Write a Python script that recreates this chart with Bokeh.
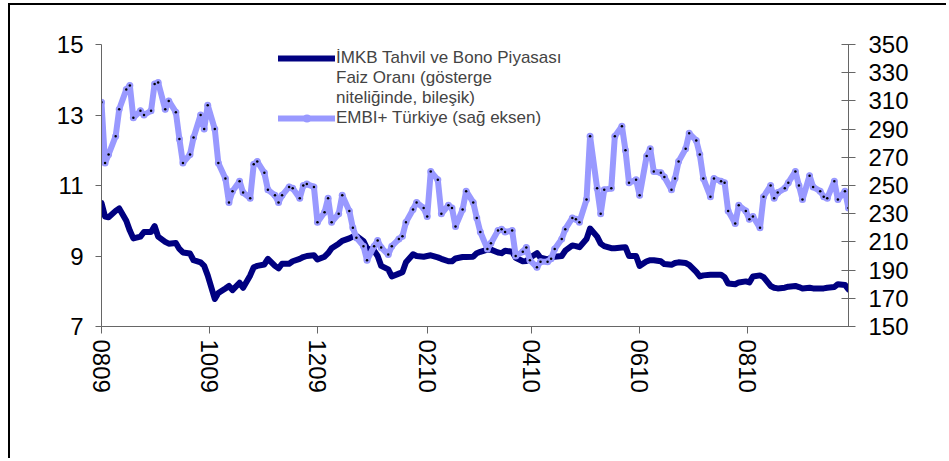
from bokeh.plotting import figure
from bokeh.models import Range1d, LinearAxis, FixedTicker, Legend, LegendItem
from bokeh.embed import file_html
from bokeh.resources import INLINE
import pandas as pd

# İMKB bond market interest rate (left axis, %)
rate = [10.50, 10.12, 10.10, 10.28, 10.35, 10.00, 9.72, 9.50, 9.55, 9.68,
        9.68, 9.85, 9.55, 9.40, 9.35, 9.37, 9.20, 9.10, 9.07, 8.88,
        8.82, 8.72, 8.45, 7.78, 7.95, 8.08, 8.15, 8.03, 8.24, 8.10,
        8.45, 8.68, 8.72, 8.76, 8.92, 8.72, 8.65, 8.78, 8.78, 8.85,
        8.92, 8.97, 9.00, 9.02, 8.90, 8.98, 9.08, 9.22, 9.35, 9.43,
        9.50, 9.55, 9.57, 9.42, 9.22, 9.15, 9.00, 8.72, 8.62, 8.42,
        8.50, 8.54, 8.82, 9.05, 9.00, 8.98, 9.00, 9.02, 8.96, 8.92,
        8.85, 8.85, 8.93, 8.97, 8.97, 8.98, 9.08, 9.12, 9.18, 9.18,
        9.10, 9.08, 9.15, 9.12, 8.95, 8.85, 8.86, 8.95, 9.08, 8.95,
        8.90, 8.95, 8.98, 9.00, 9.15, 9.30, 9.28, 9.25, 9.48, 9.78,
        9.55, 9.35, 9.28, 9.22, 9.22, 9.24, 9.25, 9.00, 9.00, 8.72,
        8.85, 8.88, 8.88, 8.85, 8.77, 8.75, 8.80, 8.82, 8.80, 8.75,
        8.55, 8.42, 8.45, 8.47, 8.47, 8.47, 8.40, 8.22, 8.20, 8.25,
        8.28, 8.25, 8.42, 8.45, 8.40, 8.15, 8.10, 8.08, 8.10, 8.13,
        8.15, 8.12, 8.08, 8.10, 8.08, 8.08, 8.08, 8.10, 8.12, 8.20,
        8.18, 8.05]

# EMBI+ Türkiye spread (right axis)
embi = [309, 266, 272, 285, 304, 318, 321, 298, 303, 300,
        303, 322, 323, 304, 310, 302, 283, 266, 272, 284,
        300, 290, 307, 290, 266, 255, 238, 246, 253, 245,
        241, 265, 267, 259, 247, 243, 238, 243, 249, 248,
        241, 250, 251, 249, 224, 231, 241, 224, 230, 243,
        232, 220, 213, 207, 197, 207, 211, 206, 201, 207,
        212, 214, 224, 233, 238, 234, 228, 260, 254, 230,
        236, 234, 221, 233, 246, 238, 227, 217, 205, 209,
        218, 219, 217, 218, 200, 203, 206, 197, 192, 196,
        196, 198, 205, 212, 219, 227, 226, 224, 240, 285,
        248, 230, 247, 248, 285, 292, 275, 252, 254, 243,
        271, 276, 260, 259, 256, 247, 255, 267, 276, 287,
        282, 272, 255, 242, 255, 253, 252, 232, 223, 236,
        232, 226, 228, 220, 242, 250, 241, 245, 248, 252,
        260, 250, 240, 257, 249, 246, 242, 241, 253, 240,
        246, 234]

tick_dates = ["2009-08-03", "2009-10-03", "2009-12-03", "2010-02-03",
              "2010-04-03", "2010-06-03", "2010-08-03"]
tick_labels = ["0809", "1009", "1209", "0210", "0410", "0610", "0810"]

left_ticks = [7, 9, 11, 13, 15]
right_ticks = [150, 170, 190, 210, 230, 250, 270, 290, 310, 330, 350]

label_rate = "İMKB Tahvil ve Bono Piyasası"
label_rate_2 = "Faiz Oranı (gösterge"
label_rate_3 = "niteliğinde, bileşik)"
label_embi = "EMBI+ Türkiye (sağ eksen)"

dates = pd.bdate_range("2009-08-03", "2010-09-30")[::2][:len(rate)]
x = [int(d.value // 10**6) for d in dates]
tick_ms = [int(pd.Timestamp(d).value // 10**6) for d in tick_dates]

FONT = "Liberation Sans"
AX = "#666666"
W, H = 938, 455
ML, MR, MT, MB = 91, 100, 39, 134

p = figure(width=W, height=H, output_backend="svg", toolbar_location=None,
           x_range=Range1d(x[0], x[-1]), y_range=Range1d(7, 15),
           min_border_left=ML, min_border_right=MR, min_border_top=MT,
           min_border_bottom=MB)
# chart-area frame: only its left and top edges fall inside the window
p.styles = {"margin-left": "8px", "margin-top": "3px",
            "border-left": "2px solid black", "border-top": "2px solid black"}
p.outline_line_color = None
p.xgrid.visible = False
p.ygrid.visible = False
p.background_fill_color = "white"
p.border_fill_color = "white"

p.extra_y_ranges = {"embi": Range1d(150, 350)}
ax_r = LinearAxis(y_range_name="embi", ticker=FixedTicker(ticks=right_ticks))
p.add_layout(ax_r, "right")

p.yaxis[0].ticker = FixedTicker(ticks=left_ticks)
p.xaxis[0].ticker = FixedTicker(ticks=tick_ms)
p.xaxis[0].major_label_overrides = {t: l for t, l in zip(tick_ms, tick_labels)}
p.xaxis[0].major_label_orientation = "vertical"

for ax in [p.xaxis[0], p.yaxis[0], ax_r]:
    ax.axis_line_color = AX
    ax.axis_line_width = 1
    ax.major_tick_line_color = AX
    ax.minor_tick_line_color = None
    ax.major_label_text_font = FONT
    ax.major_label_text_font_size = "24px"
    ax.major_label_text_color = "black"

p.yaxis[0].major_tick_out = 6
p.yaxis[0].major_tick_in = 0
p.yaxis[0].major_label_standoff = 12
ax_r.major_tick_out = 7
ax_r.major_tick_in = 7
ax_r.major_label_standoff = 13
p.xaxis[0].major_tick_out = 7
p.xaxis[0].major_tick_in = 0
p.xaxis[0].major_label_standoff = 6

r1 = p.line(x, rate, line_color="#000080", line_width=6, line_join="round", line_cap="round")
r2 = p.line(x, embi, y_range_name="embi", line_color="#9999FF", line_width=6,
            line_join="round", line_cap="round")
r3 = p.scatter(x, embi, y_range_name="embi", size=7, fill_color="#9999FF", line_color=None)
r4 = p.scatter(x, embi, y_range_name="embi", size=2.5, fill_color="black", line_color=None)
blank = p.line([], [], line_alpha=0)

legend = Legend(items=[
    LegendItem(label=label_rate, renderers=[r1]),
    LegendItem(label=label_rate_2, renderers=[blank]),
    LegendItem(label=label_rate_3, renderers=[blank]),
    LegendItem(label=label_embi, renderers=[r2, r3]),
], location=(177, 198))
legend.padding = 0
legend.margin = 0
legend.spacing = 0
legend.glyph_width = 57
legend.glyph_height = 20
legend.label_height = 20
legend.label_standoff = 1
legend.label_text_font = FONT
legend.label_text_font_size = "17px"
legend.background_fill_alpha = 0
legend.border_line_alpha = 0
p.add_layout(legend)

open("out.html", "w").write(file_html(p, INLINE))
